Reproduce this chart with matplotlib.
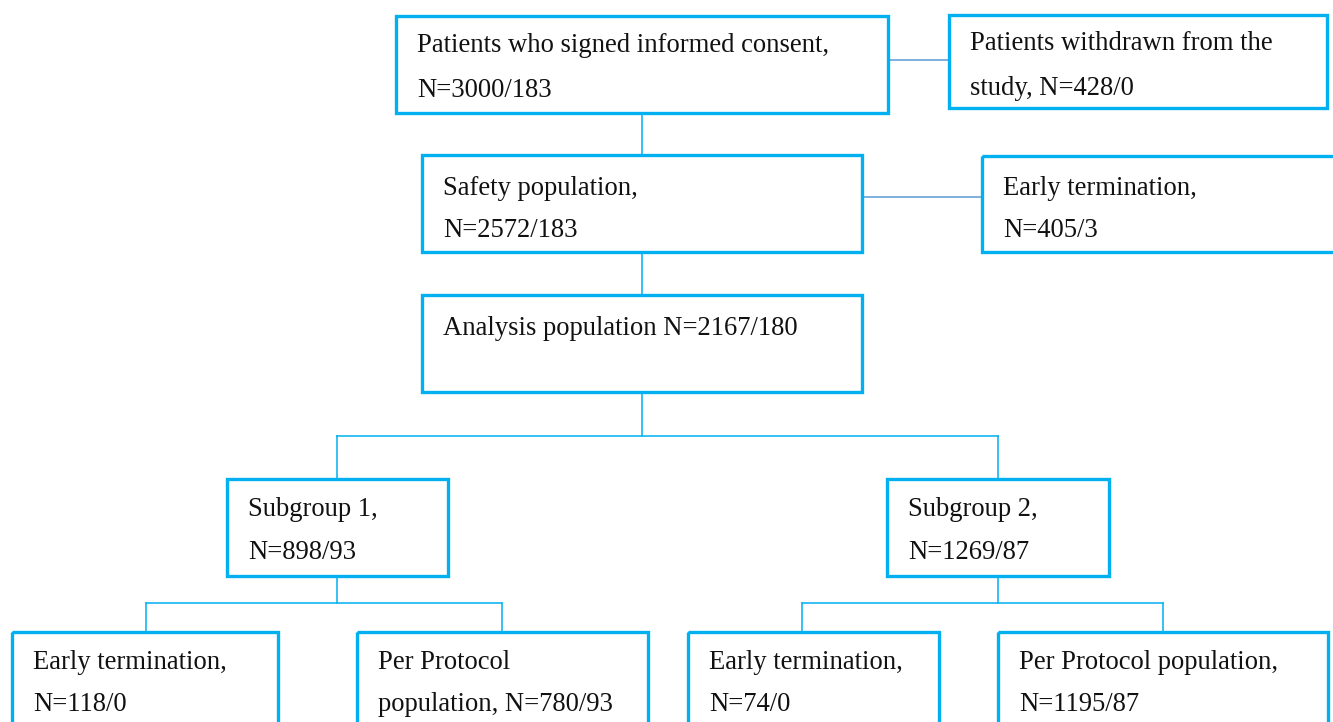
import matplotlib.pyplot as plt
from matplotlib.patches import Rectangle

# Texte des boites (ligne 1, ligne 2)
line1 = ['Patients who signed informed consent,', 'Patients withdrawn from the',
         'Safety population,', 'Early termination,',
         'Analysis population N=2167/180',
         'Subgroup 1,', 'Subgroup 2,',
         'Early termination,', 'Per Protocol',
         'Early termination,', 'Per Protocol population,']
line2 = ['N=3000/183', 'study, N=428/0',
         'N=2572/183', 'N=405/3',
         '',
         'N=898/93', 'N=1269/87',
         'N=118/0', 'population, N=780/93',
         'N=74/0', 'N=1195/87']

# Mise en page (pixels) : x0, x1, y0, y1, y du centre de la ligne 1, y de la ligne 2
boxes = [
    (396, 888, 16, 113, 44, 89),
    (949, 1327, 15, 108, 42, 87),
    (422, 862, 155, 252, 187, 229),
    (982, 1345, 156, 252, 187, 229),
    (422, 862, 295, 392, 327, None),
    (227, 448, 479, 576, 508, 551),
    (887, 1109, 479, 576, 508, 551),
    (12, 278, 632, 740, 661, 703),
    (357, 648, 632, 740, 661, 703),
    (688, 939, 632, 740, 661, 703),
    (998, 1328, 632, 740, 661, 703),
]

box_col = '#00B0F0'
side_col = '#5B9BD5'

fig = plt.figure(figsize=(13.33, 7.22), dpi=100)
ax = fig.add_axes([0, 0, 1, 1])
ax.set_xlim(0, 1333)
ax.set_ylim(722, 0)
ax.axis('off')

for (x0, x1, y0, y1, t1, t2), a, b in zip(boxes, line1, line2):
    ax.add_patch(Rectangle((x0, y0), x1 - x0, y1 - y0, fill=False,
                           edgecolor=box_col, linewidth=2.4, zorder=3))
    ax.text(x0 + 21, t1 + 8, a, fontsize=19.2, family='Liberation Serif',
            va='baseline', ha='left', color='#111111')
    if t2 is not None:
        ax.text(x0 + 21, t2 + 8, b, fontsize=19.2, family='Liberation Serif',
                va='baseline', ha='left', color='#111111')

# connecteurs lateraux
ax.plot([888, 949], [60, 60], color=side_col, lw=1.1)
ax.plot([862, 982], [197, 197], color=side_col, lw=1.1)

# connecteurs de l'arbre
lw = 1.1
ax.plot([642, 642], [113, 155], color=box_col, lw=lw)
ax.plot([642, 642], [252, 295], color=box_col, lw=lw)
ax.plot([642, 642], [392, 436], color=box_col, lw=lw)
ax.plot([337, 998], [436, 436], color=box_col, lw=lw)
ax.plot([337, 337], [436, 479], color=box_col, lw=lw)
ax.plot([998, 998], [436, 479], color=box_col, lw=lw)

ax.plot([337, 337], [576, 603], color=box_col, lw=lw)
ax.plot([146, 502], [603, 603], color=box_col, lw=lw)
ax.plot([146, 146], [603, 632], color=box_col, lw=lw)
ax.plot([502, 502], [603, 632], color=box_col, lw=lw)

ax.plot([998, 998], [576, 603], color=box_col, lw=lw)
ax.plot([802, 1163], [603, 603], color=box_col, lw=lw)
ax.plot([802, 802], [603, 632], color=box_col, lw=lw)
ax.plot([1163, 1163], [603, 632], color=box_col, lw=lw)

fig.savefig('out.png', dpi=100)
